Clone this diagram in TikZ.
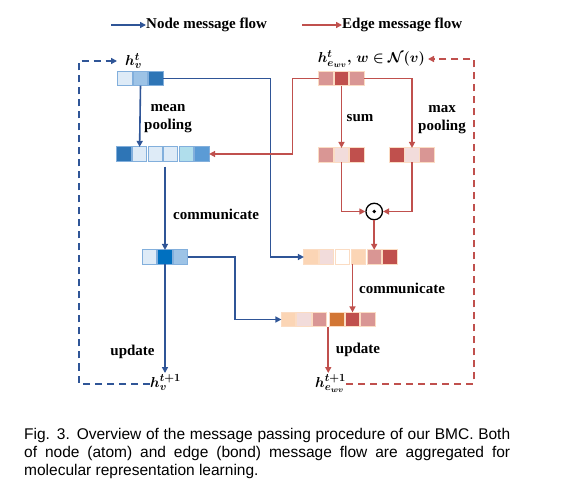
\documentclass[tikz,border=0pt]{standalone}
\usepackage{amsmath}
\usepackage{bm}
\usepackage{fontspec}
\setmainfont{Liberation Serif}
\newfontfamily\capfont{Liberation Sans}
\usetikzlibrary{arrows.meta,calc}
\definecolor{bline}{RGB}{47,85,151}
\definecolor{rline}{RGB}{192,80,77}
\definecolor{bBorder}{RGB}{130,175,220}
\definecolor{rBorder}{RGB}{251,220,195}
\definecolor{bVL}{RGB}{222,235,247}
\definecolor{bM}{RGB}{157,195,230}
\definecolor{bD}{RGB}{46,117,182}
\definecolor{bMid}{RGB}{91,155,213}
\definecolor{bCy}{RGB}{176,222,236}
\definecolor{bS}{RGB}{0,112,192}
\definecolor{rL}{RGB}{217,150,148}
\definecolor{rD}{RGB}{192,80,77}
\definecolor{rP}{RGB}{242,220,219}
\definecolor{peach}{RGB}{251,213,181}
\definecolor{orng}{RGB}{210,118,52}
\tikzset{
  cell/.style={line width=0.9pt, minimum width=14.2pt, minimum height=14.2pt, inner sep=0pt, outer sep=0pt},
  bcell/.style={cell, draw=bBorder},
  rcell/.style={cell, draw=rBorder},
  bluearrow/.style={draw=bline, line width=1.6pt, -{Triangle[length=6pt,width=6pt]}},
  redarrow/.style={draw=rline, line width=1.6pt, -{Triangle[length=6pt,width=6pt]}},
  bluedash/.style={bluearrow, line width=2pt, dash pattern=on 7pt off 5pt},
  reddash/.style={redarrow, line width=2pt, dash pattern=on 7pt off 5pt},
  lbl/.style={font=\fontsize{15}{18}\selectfont\bfseries, inner sep=0pt, align=center},
  mlbl/.style={font=\fontsize{15.5}{17}\selectfont, inner sep=0pt}
}
\begin{document}
\begin{tikzpicture}[x=1pt,y=-1pt]
\useasboundingbox[fill=white] (0,0) rectangle (562,502);
% legend
\coordinate (lb1) at (111,25);
\coordinate (lr1) at (302,25);
\node[lbl, anchor=west] (nlbl) at (146,25) {Node message flow};
\node[lbl, anchor=west] (elbl) at (342,25) {Edge message flow};
\draw[bluearrow] (lb1) -- (nlbl.west);
\draw[redarrow] (lr1) -- (elbl.west);
% top blue vector
\node[bcell, fill=bVL] (t1) at (125,78.5) {};
\node[bcell, fill=bM] (t2) at (140.5,78.5) {};
\node[bcell, fill=bD] (t3) at (156,78.5) {};
% mean pooled vector
\node[bcell, fill=bD] (m1) at (124,154) {};
\node[bcell, fill=bVL] (m2) at (139.6,154) {};
\node[bcell, fill=bVL] (m3) at (155.2,154) {};
\node[bcell, fill=bVL] (m4) at (170.8,154) {};
\node[bcell, fill=bCy] (m5) at (186.4,154) {};
\node[bcell, fill=bMid] (m6) at (202,154) {};
% top red vector
\node[rcell, fill=rL] (r1) at (326,78.5) {};
\node[rcell, fill=rD] (r2) at (341.5,78.5) {};
\node[rcell, fill=rL] (r3) at (357,78.5) {};
% sum vector
\node[rcell, fill=rL] (s1) at (326,155) {};
\node[rcell, fill=rP] (s2) at (341.5,155) {};
\node[rcell, fill=rD] (s3) at (357,155) {};
% max vector
\node[rcell, fill=rD] (x1) at (397,155) {};
\node[rcell, fill=rP] (x2) at (412,155) {};
\node[rcell, fill=rL] (x3) at (427,155) {};
% merged edge vector
\node[rcell, fill=peach] (e1) at (311,257) {};
\node[rcell, fill=rP] (e2) at (326.8,257) {};
\node[rcell, fill=white] (e3) at (342.6,257) {};
\node[rcell, fill=peach] (e4) at (358.4,257) {};
\node[rcell, fill=rL] (e5) at (374.2,257) {};
\node[rcell, fill=rD] (e6) at (390,257) {};
% odot
\node[circle, draw=black, line width=1.3pt, minimum size=16.5pt, inner sep=0pt, fill=white] (od) at (374.2,211.5) {};
\fill (od.center) circle (1.9pt);
% communicated blue vector
\node[bcell, fill=bVL] (c1) at (149.5,257) {};
\node[bcell, fill=bS] (c2) at (165,257) {};
\node[bcell, fill=bM] (c3) at (180.5,257) {};
% bottom vector
\node[rcell, fill=peach] (f1) at (288.5,319.5) {};
\node[rcell, fill=rP] (f2) at (304,319.5) {};
\node[rcell, fill=rL] (f3) at (319.5,319.5) {};
\node[rcell, fill=orng] (f4) at (337,319.5) {};
\node[rcell, fill=rD] (f5) at (352.5,319.5) {};
\node[rcell, fill=rL] (f6) at (368,319.5) {};
% math labels
\node[mlbl, anchor=west, inner xsep=8pt] (htv) at (117,61) {$\bm{h}_{\bm{v}}^{\bm{t}}$};
\node[mlbl, anchor=east, inner xsep=3pt] (hte) at (428,59) {$\bm{h}_{\bm{e}_{\bm{wv}}}^{\bm{t}}\bm{,\,w}\bm{\in}\bm{\mathcal{N}}\bm{(v)}$};
\node[mlbl, anchor=base west, inner ysep=1.5pt] (hv1) at (150,387) {$\bm{h}_{\bm{v}}^{\bm{t+1}}$};
\node[mlbl, anchor=base west, inner ysep=1.5pt] (he1) at (315,387) {$\bm{h}_{\bm{e}_{\bm{wv}}}^{\bm{t+1}}$};
% text labels
\node[lbl] (mp) at (168,119) {mean\\pooling};
\node[lbl] (sm) at (360,118) {sum};
\node[lbl] (mx) at (442,120) {max\\pooling};
\node[lbl] (cb) at (216,214) {communicate};
\node[lbl] (cr) at (402,288) {communicate};
\node[lbl] (ub) at (132.5,352) {update};
\node[lbl] (ur) at (358,350) {update};
% corner coordinates
\coordinate (bdc) at (79,61);
\coordinate (rdc) at (474,59);
% blue connectors
\draw[bluearrow] (t2.south) -- (m2.north);
\draw[bluearrow] (t3.east) -| ($(e1.west)+(-33.5,0)$) -- (e1.west);
\draw[bluearrow] ($(c2.north |- m4.south)+(0,5.5)$) -- (c2.north);
\draw[bluearrow] (c3.east) -| ($(f1.west)+(-46.5,0)$) -- (f1.west);
\draw[bluearrow] (c2.south) -- (c2.south |- hv1.north);
\draw[bluedash] ($(hv1.base west)+(0,-3.5)$) -| (bdc) -- (htv.west);
% red connectors
\draw[redarrow] (r1.west) -| ($(m6.east)+(83.5,0)$) -- (m6.east);
\draw[redarrow] (r2.south) -- (s2.north);
\draw[redarrow] (r3.east) -| (x2.north);
\draw[redarrow] (s2.south) |- (od.west);
\draw[redarrow] (x2.south) |- (od.east);
\draw[redarrow] (od.south) -- (e5.north);
\draw[redarrow] (f5.north |- e3.south) -- (f5.north);
\coordinate (fu) at ($(f3.south east)!.5!(f4.south west)$);
\draw[redarrow] (fu) -- (fu |- he1.north);
\draw[reddash] ($(he1.base east)+(0,-3.5)$) -| (rdc) -- (hte.east);
% caption
\node[anchor=north west, text width=486pt, align=justify, inner sep=0pt,
  font=\capfont\fontsize{15.5}{18.2}\selectfont] (cap) at (24,428)
  {Fig. 3. Overview of the message passing procedure of our BMC. Both\linebreak
   of node (atom) and edge (bond) message flow are aggregated for\linebreak
   molecular representation learning.};
\end{tikzpicture}
\end{document}
